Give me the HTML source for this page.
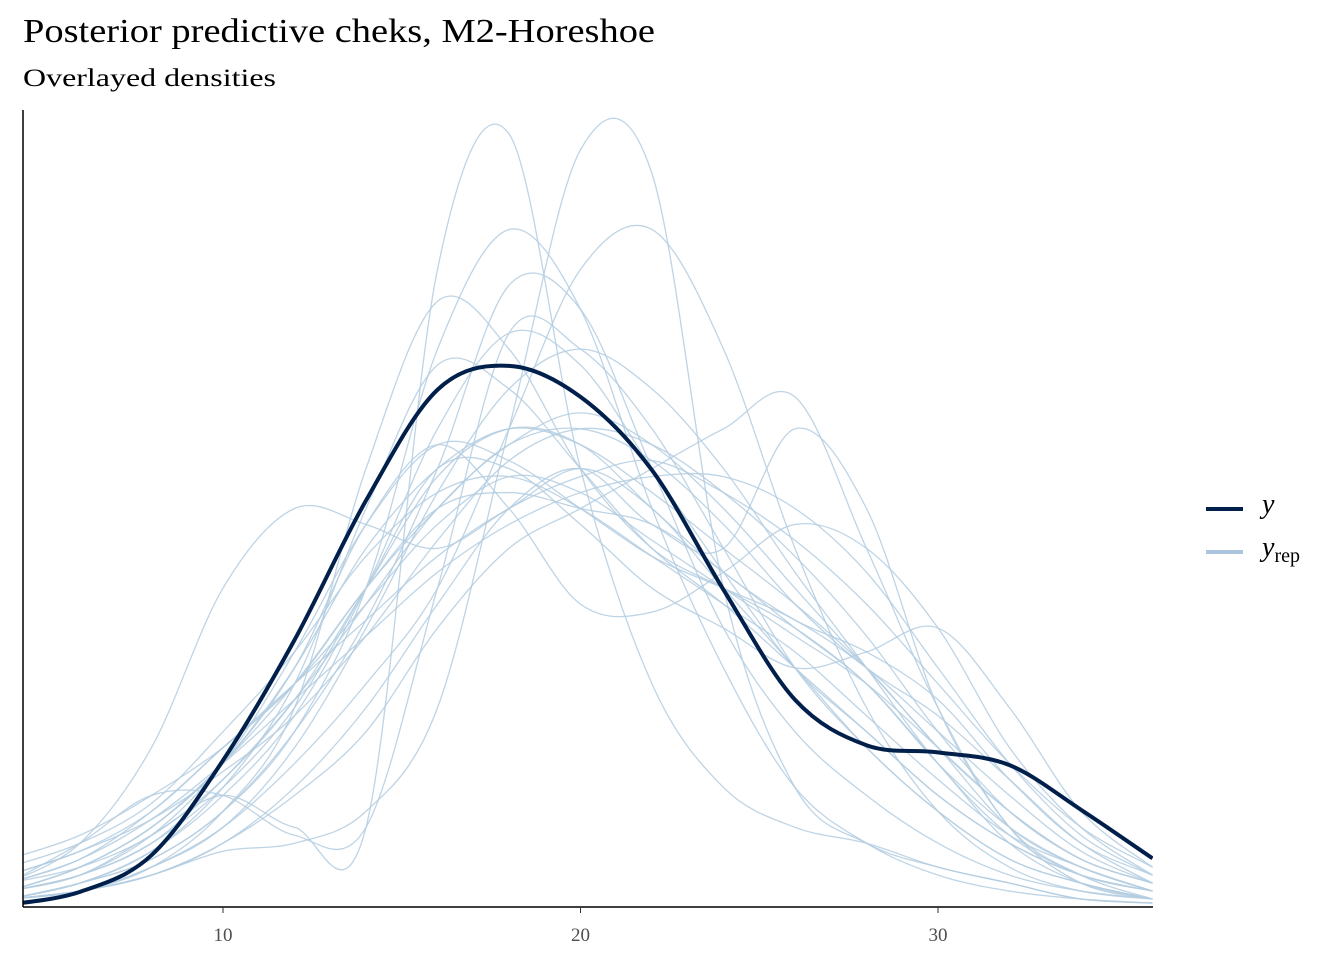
<!DOCTYPE html>
<html><head><meta charset="utf-8"><style>
body{margin:0;background:#fff;}
svg text{font-family:"Liberation Serif",serif;}
</style></head><body>
<svg width="1344" height="960">
<text x="23" y="42" font-size="34" fill="#000" textLength="632" lengthAdjust="spacingAndGlyphs">Posterior predictive cheks, M2-Horeshoe</text>
<text x="23" y="86" font-size="25" fill="#000" textLength="253" lengthAdjust="spacingAndGlyphs">Overlayed densities</text>
<defs><clipPath id="cp"><rect x="23" y="100" width="1130" height="807"/></clipPath></defs>
<g id="rep" clip-path="url(#cp)"></g>
<g id="obs" clip-path="url(#cp)"></g>
<line x1="23" y1="110" x2="23" y2="907" stroke="#000" stroke-width="1.5"/>
<line x1="23" y1="907" x2="1153" y2="907" stroke="#000" stroke-width="1.5"/>
<g id="xt"></g>
<g>
<line x1="1206" y1="509" x2="1243" y2="509" stroke="#011f4b" stroke-width="4"/>
<text x="1262" y="513" font-size="28" font-style="italic">y</text>
<line x1="1206" y1="552" x2="1243" y2="552" stroke="#a9c4dc" stroke-width="4"/>
<text x="1262" y="556" font-size="28"><tspan font-style="italic">y</tspan><tspan font-size="20" dy="6">rep</tspan></text>
</g>
</svg>
<script>
const xGrid=[4,6,8,10,12,14,16,18,20,22,24,26,28,30,32,34,36];
const xTicks=[10,20,30];
const yObs=[0.3,1.9,6.5,18.4,33.5,51,64.9,67.9,64,54.8,39.8,26,20.3,19.4,17.8,12.2,6.1];
const yRep1=[2,4,9,14,10,10,80,97,55,28,15,10,8,5,3,1,0.5];
const yRep2=[1,2,4,7,8,12,25,60,95,92,40,15,8,5,3,1,0.5];
const yRep3=[1,2,5,10,18,28,40,60,80,85,70,45,25,12,5,2,1];
const yRep4=[1,3,6,12,22,40,70,85,75,50,30,15,8,4,2,1,0.5];
const yRep5=[4,7,12,20,28,40,50,52,50,48,42,35,28,18,10,5,2];
const yRep6=[3,8,14,14,9,10,40,72,70,60,45,30,20,12,6,3,1];
const yRep7=[3,8,20,40,50,48,45,50,55,50,40,30,20,12,6,3,1];
const yRep8=[1,2,4,8,14,22,35,45,50,55,60,64,45,25,10,4,1];
const yRep9=[2,4,8,15,25,40,55,55,48,40,35,30,32,35,25,12,5];
const yRep10=[2,5,10,18,30,45,55,60,58,52,45,38,30,20,12,6,3];
const yRep11=[1,3,7,15,28,50,68,65,55,45,38,30,22,14,8,4,2];
const yRep12=[2,4,8,16,26,38,50,58,62,58,50,40,30,20,10,5,2];
const yRep13=[3,6,12,20,28,36,44,50,54,56,52,46,38,28,18,10,5];
const yRep14=[1,2,5,12,25,55,76,70,55,45,40,35,28,18,8,3,1];
const yRep15=[2,4,9,18,32,48,58,56,50,44,40,36,30,22,14,7,3];
const yRep16=[1,3,7,14,24,40,60,72,68,55,42,30,22,14,8,4,2];
const yRep17=[2,5,10,18,30,48,58,50,38,37,42,48,45,35,20,10,4];
const yRep18=[1,2,5,10,20,35,52,65,70,65,55,42,30,18,9,4,2];
const yRep19=[2,5,10,18,28,40,50,58,60,56,48,38,30,24,16,8,3];
const yRep20=[3,6,11,18,26,34,42,48,52,54,54,50,42,30,18,9,4];
const yRep21=[1,2,4,8,15,25,38,50,55,48,45,60,50,25,10,3,1];
const yRep22=[1,3,6,12,22,36,55,78,75,55,35,22,14,8,4,2,1];
const yRep23=[6,9,14,20,28,38,48,54,52,46,40,34,28,20,12,6,3];
const yRep24=[5,8,13,22,32,44,52,54,50,44,38,32,24,16,9,5,2];
const yRep25=[3,5,9,16,26,40,54,60,58,50,42,36,32,26,16,8,4];
const yRep26=[4,7,11,17,24,34,46,56,60,58,52,44,34,22,12,6,3];
const reps=[yRep1,yRep2,yRep3,yRep4,yRep5,yRep6,yRep7,yRep8,yRep9,yRep10,yRep11,yRep12,yRep13,yRep14,yRep15,yRep16,yRep17,yRep18,yRep19,yRep20,yRep21,yRep22,yRep23,yRep24,yRep25,yRep26];
const NS='http://www.w3.org/2000/svg';
function sx(v){return 223+(v-10)*35.75;}
function sy(v){return 907-v*7.97;}
function pathFor(arr){
  const p=arr.map((v,i)=>[sx(xGrid[i]),sy(v)]);
  let d='M'+p[0][0]+','+p[0][1];
  for(let i=0;i<p.length-1;i++){
    const p0=p[i-1]||p[i],p1=p[i],p2=p[i+1],p3=p[i+2]||p2;
    const c1=[p1[0]+(p2[0]-p0[0])/6,p1[1]+(p2[1]-p0[1])/6];
    const c2=[p2[0]-(p3[0]-p1[0])/6,p2[1]-(p3[1]-p1[1])/6];
    d+=' C'+c1+' '+c2+' '+p2;
  }
  return d;
}
const rep=document.getElementById('rep');
reps.forEach((r,i)=>{
  const el=document.createElementNS(NS,'path');
  el.setAttribute('d',pathFor(r));
  el.setAttribute('fill','none');el.setAttribute('stroke','#b3cde0');el.setAttribute('stroke-width','1.3');el.setAttribute('stroke-opacity','0.85');
  
  
  rep.appendChild(el);
});
const o=document.createElementNS(NS,'path');
o.setAttribute('d',pathFor(yObs));
o.setAttribute('fill','none');o.setAttribute('stroke','#011f4b');o.setAttribute('stroke-width','4');


document.getElementById('obs').appendChild(o);
const xt=document.getElementById('xt');
xTicks.forEach(t=>{
  const l=document.createElementNS(NS,'line');
  l.setAttribute('x1',sx(t));l.setAttribute('x2',sx(t));l.setAttribute('y1',907);l.setAttribute('y2',913);l.setAttribute('stroke','#333');
  
  
  xt.appendChild(l);
  const tx=document.createElementNS(NS,'text');
  tx.setAttribute('x',sx(t));tx.setAttribute('y',941);tx.setAttribute('text-anchor','middle');tx.setAttribute('font-size','19');tx.setAttribute('fill','#4d4d4d');
  tx.textContent=t;
  
  
  xt.appendChild(tx);
});
</script>
</body></html>
